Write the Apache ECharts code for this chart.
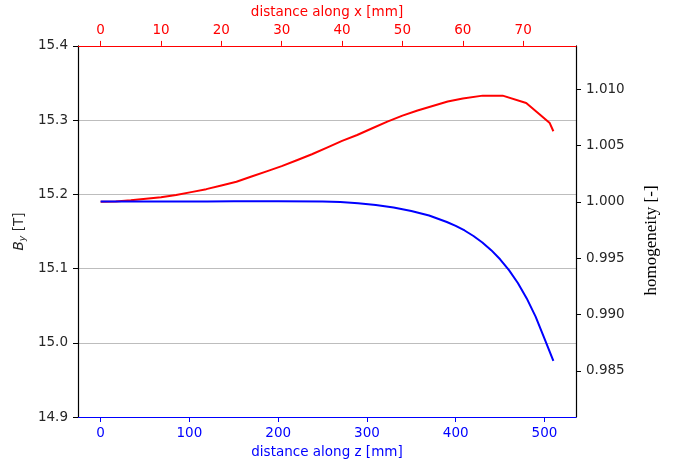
<!DOCTYPE html>
<html>
<head>
<meta charset="utf-8">
<script src="https://cdn.jsdelivr.net/npm/echarts@6/dist/echarts.min.js"></script>
<style>
html,body{margin:0;padding:0;background:#fff;}
#chart{width:678px;height:464px;}
</style>
</head>
<body>
<div id="chart"></div>
<script>
// Reference field for homogeneity (right axis = By / B0)
const B0 = 15.19;

// Red series: By along x (top axis, mm)
const xDist = [0, 2.5, 5, 7.5, 10, 12.5, 15, 17.5, 20, 22.5, 25, 27.5, 30, 32.5, 35, 37.5, 40, 42.5, 45, 47.5, 50, 52.5, 55, 57.5, 60, 63.3, 66.6, 70.5, 72.7, 74.4, 75];
const byAlongX = [15.190, 15.1905, 15.192, 15.194, 15.196, 15.199, 15.203, 15.207, 15.212, 15.217, 15.224, 15.231, 15.238, 15.246, 15.254, 15.263, 15.272, 15.280, 15.289, 15.298, 15.306, 15.313, 15.319, 15.325, 15.329, 15.333, 15.333, 15.323, 15.308, 15.296, 15.285];

// Blue series: By along z (bottom axis, mm)
const zDist = [0, 50, 100, 120, 150, 200, 250, 270, 290, 310, 330, 350, 370, 390, 400, 410, 420, 430, 440, 450, 460, 470, 480, 490, 500, 510];
const byAlongZ = [15.1902, 15.1902, 15.1902, 15.1905, 15.1907, 15.1907, 15.1904, 15.1897, 15.1881, 15.1857, 15.1822, 15.1775, 15.1715, 15.1627, 15.1575, 15.1513, 15.1439, 15.1352, 15.1248, 15.1125, 15.0979, 15.0805, 15.0598, 15.0353, 15.0057, 14.9755];

// Tick labels
const zTicks = [0, 100, 200, 300, 400, 500];
const xTicks = [0, 10, 20, 30, 40, 50, 60, 70];
const homTicks = [0.985, 0.990, 0.995, 1.000, 1.005, 1.010];

const BY_MIN = 14.9, BY_MAX = 15.4;
const RED = '#ff0000', BLUE = '#0000ff', INK = '#262626';
const FONT = 'DejaVu Sans';

const chart = echarts.init(document.getElementById('chart'), null, {renderer: 'canvas'});

const redData = xDist.map((x, i) => [x, byAlongX[i]]);
const blueData = zDist.map((z, i) => [z, byAlongZ[i]]);

chart.setOption({
  animation: false,
  backgroundColor: '#ffffff',
  grid: {left: 78, top: 44, width: 498, height: 374, containLabel: false},
  xAxis: [
    {
      type: 'value', position: 'bottom', min: -25.5, max: 535.5,
      name: 'distance along z [mm]', nameLocation: 'middle', nameGap: 28,
      nameTextStyle: {color: BLUE, fontFamily: FONT, fontSize: 13.5},
      axisLine: {onZero: false, lineStyle: {color: BLUE, width: 1.2}},
      axisTick: {show: true, length: 5, lineStyle: {color: BLUE, width: 1}, customValues: zTicks},
      axisLabel: {color: BLUE, fontFamily: FONT, fontSize: 13.5, margin: 9, customValues: zTicks, formatter: v => String(v)},
      splitLine: {show: false}
    },
    {
      type: 'value', position: 'top', min: -3.75, max: 78.75,
      name: 'distance along x [mm]', nameLocation: 'middle', nameGap: 26,
      nameTextStyle: {color: RED, fontFamily: FONT, fontSize: 13.5},
      axisLine: {onZero: false, lineStyle: {color: RED, width: 1.2}},
      axisTick: {show: true, length: 5, lineStyle: {color: RED, width: 1}, customValues: xTicks},
      axisLabel: {color: RED, fontFamily: FONT, fontSize: 13.5, margin: 8, customValues: xTicks, formatter: v => String(v)},
      splitLine: {show: false}
    }
  ],
  yAxis: [
    {
      type: 'value', position: 'left', min: BY_MIN, max: BY_MAX, interval: 0.1,
      name: '{i|B}{s|y} [T]', nameLocation: 'middle', nameGap: 45, nameRotate: 90,
      nameTextStyle: {
        color: INK, fontFamily: FONT, fontSize: 13.5,
        rich: {
          i: {fontStyle: 'italic', fontFamily: FONT, fontSize: 13.5, color: INK},
          s: {fontStyle: 'italic', fontFamily: FONT, fontSize: 9.5, color: INK, verticalAlign: 'bottom', padding: [6, 0, 0, 0]}
        }
      },
      axisLine: {show: true, onZero: false, lineStyle: {color: '#000', width: 1.2}},
      axisTick: {show: true, length: 5, lineStyle: {color: '#000', width: 1}},
      axisLabel: {color: INK, fontFamily: FONT, fontSize: 13.5, margin: 10, formatter: v => v.toFixed(1)},
      splitLine: {show: true, lineStyle: {color: '#bdbdbd', width: 1}}
    },
    {
      type: 'value', position: 'right', min: BY_MIN / B0, max: BY_MAX / B0,
      name: 'homogeneity [-]', nameLocation: 'middle', nameGap: 67, nameRotate: 90,
      nameTextStyle: {color: '#000', fontFamily: 'Liberation Serif', fontSize: 17, padding: [0, 18, 0, 0]},
      axisLine: {show: true, onZero: false, lineStyle: {color: '#000', width: 1.2}},
      axisTick: {show: true, length: 5, lineStyle: {color: '#000', width: 1}, customValues: homTicks},
      axisLabel: {color: INK, fontFamily: FONT, fontSize: 13.5, margin: 10, customValues: homTicks, formatter: v => v.toFixed(3)},
      splitLine: {show: false}
    }
  ],
  series: [
    {
      type: 'line', name: 'x', xAxisIndex: 1, yAxisIndex: 0, data: redData,
      showSymbol: false, symbol: 'none', lineStyle: {color: RED, width: 2}, itemStyle: {color: RED}
    },
    {
      type: 'line', name: 'z', xAxisIndex: 0, yAxisIndex: 0, data: blueData,
      showSymbol: false, symbol: 'none', lineStyle: {color: BLUE, width: 2}, itemStyle: {color: BLUE}
    }
  ]
});
</script>
</body>
</html>
